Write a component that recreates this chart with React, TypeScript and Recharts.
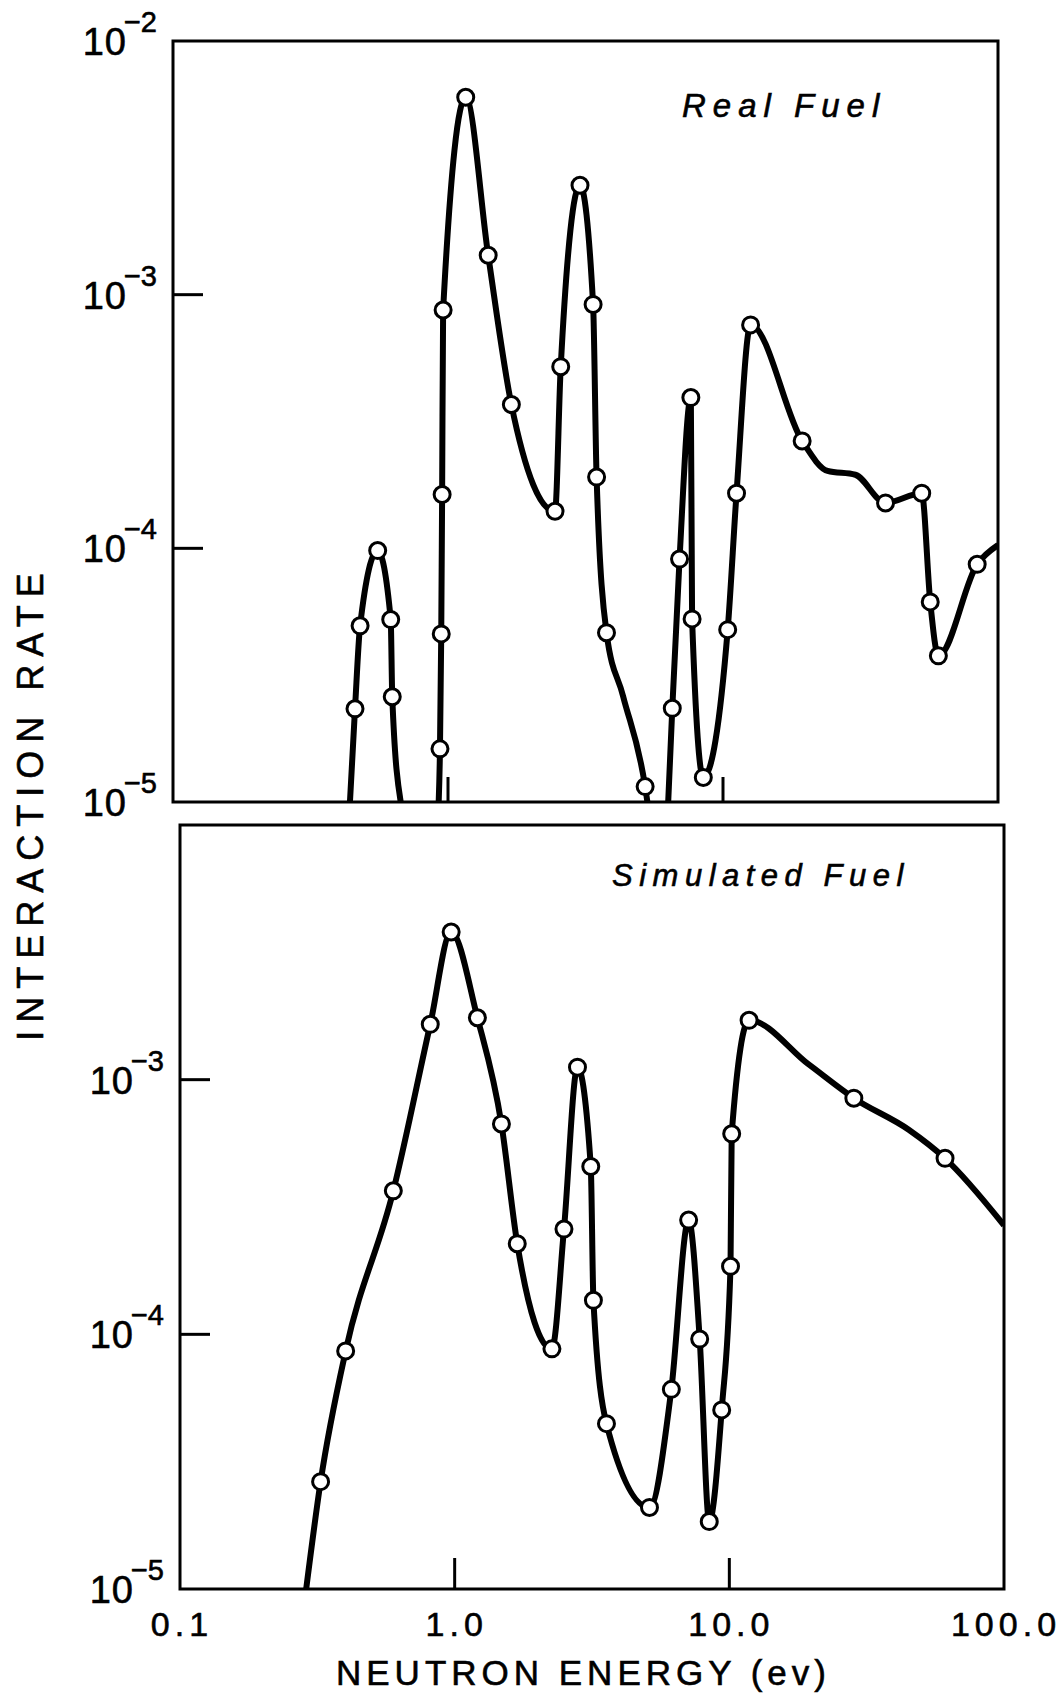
import { LineChart, Line, XAxis, YAxis, ReferenceArea } from "recharts";

const FONT = "'Liberation Sans', Arial, sans-serif";

// Real fuel (top panel). null = gap where the curve falls below 1e-5
const realEnergy = [
  0.44, 0.459, 0.479, 0.555, 0.619, 0.627, 0.673,
  0.8,
  0.925, 0.935, 0.945, 0.952, 0.96, 1.16, 1.4, 1.7, 2.45, 2.57, 3.02, 3.37, 3.47, 3.77, 4.33, 5.21, 5.31,
  5.8,
  6.32, 6.54, 6.95, 7.64, 7.72, 8.48, 10.4, 11.2, 12.6, 19.4, 24.0, 30.3, 39.0, 52.8, 56.7, 60.7, 84.0, 100,
];
const realRate = [
  1.0e-5, 2.33e-5, 4.95e-5, 9.8e-5, 5.24e-5, 2.6e-5, 1.0e-5,
  null,
  1.0e-5, 1.62e-5, 4.6e-5, 1.63e-4, 8.7e-4, 6.0e-3, 1.43e-3, 3.69e-4, 1.4e-4, 5.2e-4, 2.7e-3, 9.15e-4, 1.91e-4, 4.65e-5, 2.62e-5, 1.15e-5, 1.0e-5,
  null,
  1.0e-5, 2.34e-5, 9.07e-5, 3.93e-4, 5.27e-5, 1.25e-5, 4.78e-5, 1.65e-4, 7.6e-4, 2.65e-4, 2.02e-4, 1.95e-4, 1.51e-4, 1.65e-4, 6.15e-5, 3.77e-5, 8.65e-5, 1.03e-4,
];
const realMarked = [
  0, 1, 1, 1, 1, 1, 0,
  0,
  0, 1, 1, 1, 1, 1, 1, 1, 1, 1, 1, 1, 1, 1, 0, 1, 0,
  0,
  0, 1, 1, 1, 1, 1, 1, 1, 1, 1, 0, 0, 1, 1, 1, 1, 1, 0,
];

// Simulated fuel (bottom panel)
const simEnergy = [
  0.288, 0.325, 0.401, 0.598, 0.815, 0.971, 1.21, 1.48, 1.69, 2.26, 2.5, 2.8, 3.13, 3.2, 3.57,
  5.12, 6.15, 7.11, 7.8, 8.45, 9.38, 10.1, 10.2, 11.8, 19.4, 28.4, 45.0, 61.0, 100,
];
const simRate = [
  1.0e-5, 2.64e-5, 8.61e-5, 3.66e-4, 1.65e-3, 3.8e-3, 1.75e-3, 6.7e-4, 2.27e-4, 8.77e-5, 2.59e-4, 1.12e-3, 4.56e-4, 1.36e-4, 4.46e-5,
  2.09e-5, 6.08e-5, 2.81e-4, 9.58e-5, 1.84e-5, 5.05e-5, 1.85e-4, 6.13e-4, 1.71e-3, 1.15e-3, 8.46e-4, 6.36e-4, 4.91e-4, 2.68e-4,
];
const simMarked = [
  0, 1, 1, 1, 1, 1, 1, 1, 1, 1, 1, 1, 1, 1, 1,
  1, 1, 1, 1, 1, 1, 1, 1, 1, 0, 1, 0, 1, 0,
];

const energyTicks = [0.1, 1, 10, 100];
const energyLabels = ["0.1", "1.0", "10.0", "100.0"];
const rateTicksTop = [1e-5, 1e-4, 1e-3, 1e-2];
const rateTicksBottom = [1e-5, 1e-4, 1e-3];

const realData = realEnergy.map((e, i) => ({ e, r: realRate[i], m: realMarked[i] }));
const simData = simEnergy.map((e, i) => ({ e, r: simRate[i], m: simMarked[i] }));

const YTick = (props: any) => {
  const { x, y, payload } = props;
  const exp = Math.round(Math.log10(payload.value));
  const inner = exp === -3 || exp === -4;
  return (
    <g>
      {inner && <line x1={x} x2={x + 30} y1={y} y2={y} stroke="#000" strokeWidth={3} />}
      <text x={x - 16} y={y + 14} textAnchor="end" fontFamily={FONT} fill="#000" stroke="#000" strokeWidth={0.6}>
        <tspan fontSize={38} letterSpacing={1}>10</tspan>
        <tspan fontSize={29} dx={-3} dy={-23}>{"\u2212" + Math.abs(exp)}</tspan>
      </text>
    </g>
  );
};

const makeXTick = (showLabel: boolean, len: number) => (props: any) => {
  const { x, y, payload } = props;
  const v = payload.value;
  const idx = energyTicks.findIndex((t) => Math.abs(t - v) < t * 1e-6);
  return (
    <g>
      {(idx === 1 || idx === 2) && (
        <line x1={x} x2={x} y1={y} y2={y - len} stroke="#000" strokeWidth={3} />
      )}
      {showLabel && (
        <text x={x + 2} y={y + 47} textAnchor="middle" fontSize={34} letterSpacing={5} fontFamily={FONT} fill="#000" stroke="#000" strokeWidth={0.6}>
          {energyLabels[idx]}
        </text>
      )}
    </g>
  );
};

const renderDot = (props: any) => {
  const { cx, cy, payload, index } = props;
  if (!payload || !payload.m || cx == null || cy == null) return <g key={`n${index}`} />;
  return <circle key={`d${index}`} cx={cx} cy={cy} r={8} fill="#fff" stroke="#000" strokeWidth={3} />;
};

function Panel({ data, width, height, margin, yTicks, showXLabels, xTickLen }: any) {
  return (
    <LineChart width={width} height={height} data={data} margin={margin}>
      <XAxis
        dataKey="e"
        type="number"
        scale="log"
        domain={[0.1, 100]}
        ticks={energyTicks}
        interval={0}
        allowDataOverflow
        height={1}
        axisLine={false}
        tickLine={false}
        tickSize={0}
        tickMargin={0}
        tick={makeXTick(showXLabels, xTickLen)}
      />
      <YAxis
        type="number"
        scale="log"
        domain={[1e-5, 1e-2]}
        ticks={yTicks}
        interval={0}
        allowDataOverflow
        width={1}
        axisLine={false}
        tickLine={false}
        tickSize={0}
        tickMargin={0}
        tick={YTick}
      />
      <ReferenceArea x1={0.1} x2={100} y1={1e-5} y2={1e-2} fill="none" stroke="#000" strokeWidth={3} />
      <Line
        dataKey="r"
        type="monotone"
        stroke="#000"
        strokeWidth={6}
        connectNulls={false}
        dot={renderDot}
        activeDot={false}
        isAnimationActive={false}
      />
    </LineChart>
  );
}

export default function App() {
  return (
    <div style={{ position: "absolute", left: 0, top: 0, width: 1063, height: 1694, background: "#fff" }}>
      <div style={{ position: "absolute", left: 0, top: 0 }}>
        <Panel
          data={realData}
          width={1063}
          height={830}
          margin={{ top: 41, right: 65, bottom: 27, left: 172 }}
          yTicks={rateTicksTop}
          showXLabels={false}
          xTickLen={25}
        />
      </div>
      <div style={{ position: "absolute", left: 0, top: 810 }}>
        <Panel
          data={simData}
          width={1063}
          height={884}
          margin={{ top: 15, right: 59, bottom: 104, left: 179 }}
          yTicks={rateTicksBottom}
          showXLabels={true}
          xTickLen={31}
        />
      </div>
      <svg
        width={1063}
        height={1694}
        style={{ position: "absolute", left: 0, top: 0, pointerEvents: "none" }}
      >
        <text x={682} y={117} fontSize={33} fontStyle="italic" letterSpacing={7} fontFamily={FONT} fill="#000" stroke="#000" strokeWidth={0.6}>
          Real Fuel
        </text>
        <text x={612} y={886} fontSize={31} fontStyle="italic" letterSpacing={6.5} fontFamily={FONT} fill="#000" stroke="#000" strokeWidth={0.6}>
          Simulated Fuel
        </text>
        <text x={336} y={1685} fontSize={35} letterSpacing={5} fontFamily={FONT} fill="#000" stroke="#000" strokeWidth={0.6}>
          NEUTRON ENERGY (ev)
        </text>
        <text
          x={43}
          y={803}
          fontSize={36}
          letterSpacing={8}
          textAnchor="middle"
          fontFamily={FONT}
          fill="#000"
          stroke="#000"
          strokeWidth={0.6}
          transform="rotate(-90 43 803)"
        >
          INTERACTION RATE
        </text>
      </svg>
    </div>
  );
}
